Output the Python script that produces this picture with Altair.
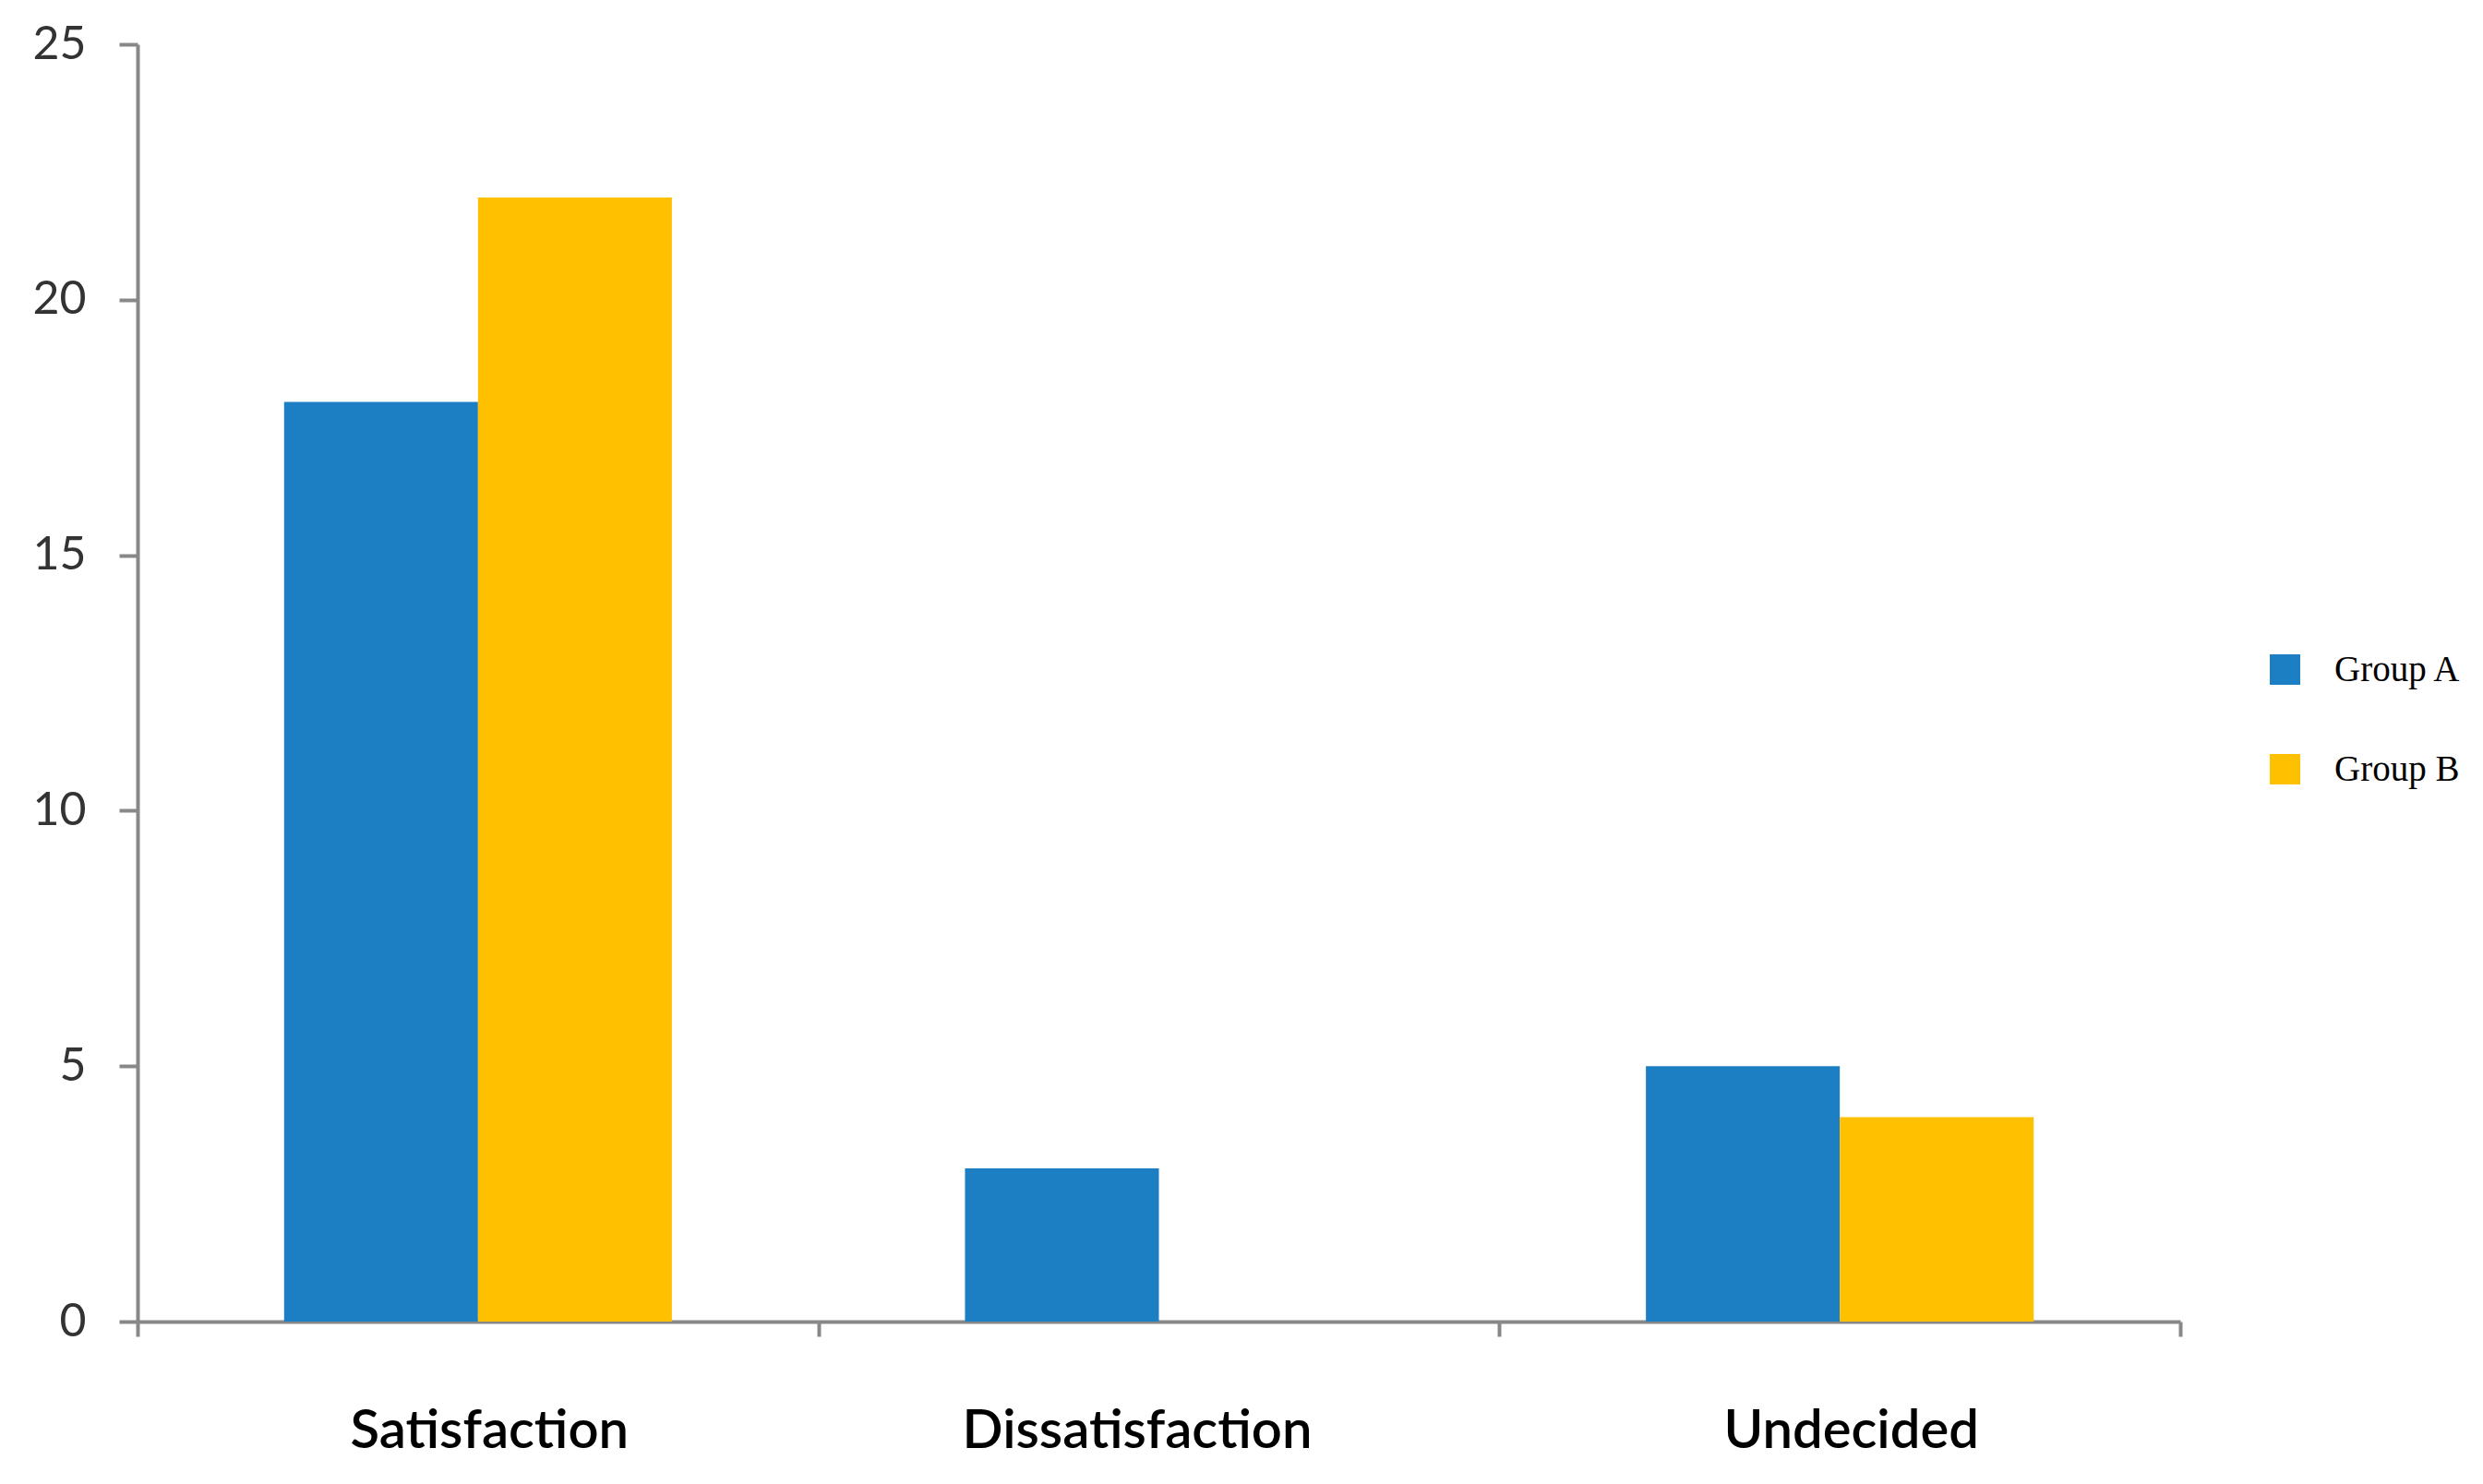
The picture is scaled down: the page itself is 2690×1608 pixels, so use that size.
import altair as alt
import pandas as pd

categories = ["Satisfaction", "Dissatisfaction", "Undecided"]
groups = ["Group A", "Group B"]
group_a = [18, 3, 5]
group_b = [22, 0, 4]
colors = ["#1c7fc4", "#ffc000"]

rows = []
for c, a, b in zip(categories, group_a, group_b):
    rows.append({"category": c, "group": groups[0], "value": a})
    rows.append({"category": c, "group": groups[1], "value": b})
df = pd.DataFrame(rows)

axis_gray = "#888888"

chart = alt.Chart(df).mark_bar().encode(
    x=alt.X("category:N", sort=categories,
            scale=alt.Scale(paddingInner=0, paddingOuter=0),
            axis=alt.Axis(title=None, labelAngle=0, tickBand="extent",
                          tickSize=16, tickWidth=4, tickColor=axis_gray,
                          domainColor=axis_gray, domainWidth=4,
                          labelFont="Lato", labelFontSize=58, labelFontWeight=600,
                          labelColor="#000000", labelLimit=0,
                          labelOffset={"condition": {"test": "datum.value === 'Dissatisfaction'",
                                                     "value": -24},
                                       "value": 12},
                          labelPadding=74)),
    xOffset=alt.XOffset("group:N", sort=groups,
                        scale=alt.Scale(paddingInner=0, paddingOuter=0.756)),
    y=alt.Y("value:Q", scale=alt.Scale(domain=[0, 25]),
            axis=alt.Axis(title=None, values=[0, 5, 10, 15, 20, 25], grid=False,
                          tickSize=20, tickWidth=4, tickColor=axis_gray,
                          domainColor=axis_gray, domainWidth=4,
                          labelFont="Lato", labelFontSize=50, labelColor="#333333",
                          labelPadding=36)),
    color=alt.Color("group:N", sort=groups,
                    scale=alt.Scale(domain=groups, range=colors),
                    legend=alt.Legend(title=None, orient="none", legendX=2307, legendY=658,
                                      symbolType="square", symbolSize=1089,
                                      symbolStrokeWidth=0, labelFont="Liberation Serif",
                                      labelFontSize=39, labelColor="#000000",
                                      labelOffset=34, rowPadding=68)),
).properties(
    width=2213,
    height=1384,
    autosize=alt.AutoSizeParams(type="none"),
    padding={"left": 141, "top": 40, "right": 320, "bottom": 168},
).configure_view(stroke=None)

chart.save("out.html", embed_options={"renderer": "svg", "actions": False})
